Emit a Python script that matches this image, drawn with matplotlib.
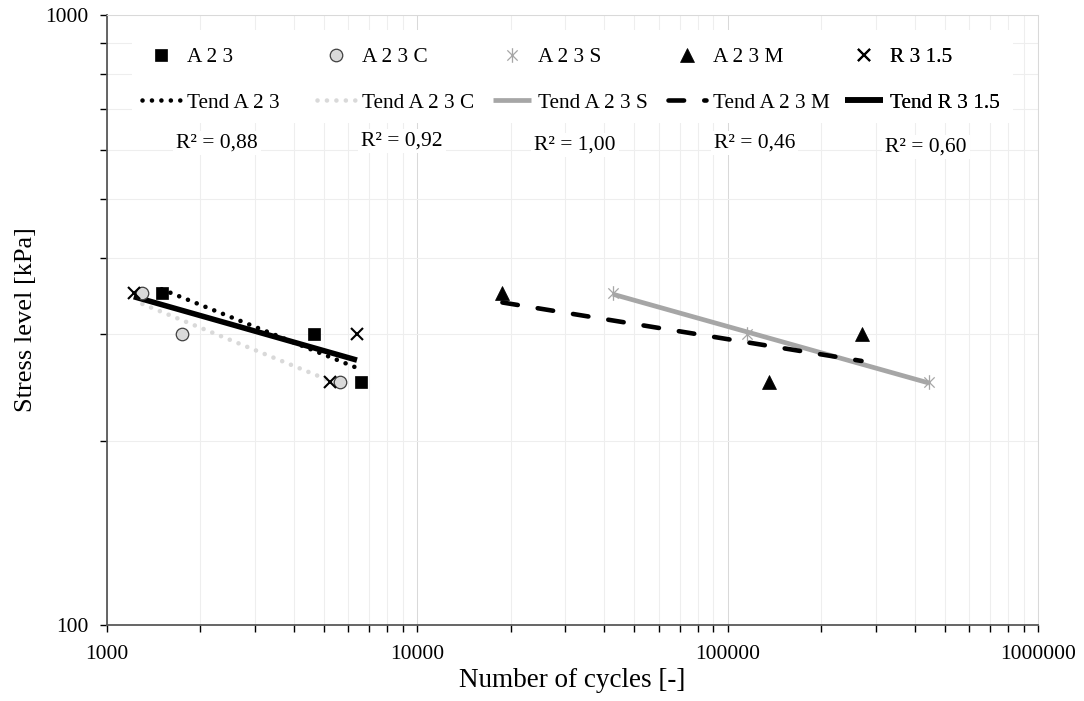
import numpy as np
import matplotlib
matplotlib.use('Agg')
import matplotlib.pyplot as plt
from matplotlib.path import Path
from matplotlib.ticker import LogLocator, FuncFormatter, NullFormatter
from matplotlib.patches import Rectangle

plt.rcParams['font.family'] = ['Liberation Serif', 'DejaVu Serif']

# ---------------- data ----------------
series_names = ['A 2 3', 'A 2 3 C', 'A 2 3 S', 'A 2 3 M', 'R 3 1.5']
trend_names = ['Tend A 2 3', 'Tend A 2 3 C', 'Tend A 2 3 S', 'Tend A 2 3 M', 'Tend R 3 1.5']

cycles_a23 = [1500, 4650, 6580]
stress_a23 = [350, 300, 250]
cycles_a23c = [1300, 1750, 5650]
stress_a23c = [350, 300, 250]
cycles_a23s = [42700, 115700, 446000]
stress_a23s = [350, 300, 250]
cycles_a23m = [18800, 270000, 135900]
stress_a23m = [350, 300, 250]
cycles_r315 = [1220, 6390, 5240]
stress_r315 = [350, 300, 250]

r_squared = [0.88, 0.92, 1.00, 0.46, 0.60]

x_ticks = [1000, 10000, 100000, 1000000]
y_ticks = [100, 1000]

# ---------------- styles ----------------
star = Path([(-0.707, -0.707), (0.707, 0.707), (-0.707, 0.707), (0.707, -0.707), (0, -1), (0, 1)],
            [Path.MOVETO, Path.LINETO, Path.MOVETO, Path.LINETO, Path.MOVETO, Path.LINETO])

marker_styles = [
    dict(marker='s', markersize=9, markerfacecolor='black', markeredgecolor='black', markeredgewidth=0.5),
    dict(marker='o', markersize=9, markerfacecolor='#d9d9d9', markeredgecolor='#404040', markeredgewidth=0.9),
    dict(marker=star, markersize=10.5, markerfacecolor='none', markeredgecolor='#a6a6a6', markeredgewidth=0.9),
    dict(marker='^', markersize=9.5, markerfacecolor='black', markeredgecolor='black', markeredgewidth=0.5),
    dict(marker='x', markersize=9, markerfacecolor='black', markeredgecolor='black', markeredgewidth=1.5),
]
trend_styles = [
    dict(color='black', lw=3.3, linestyle=(0, (0.01, 2.05)), dash_capstyle='round'),
    dict(color='#d9d9d9', lw=3.3, linestyle=(0, (0.01, 2.05)), dash_capstyle='round'),
    dict(color='#a6a6a6', lw=3.4, linestyle='-', solid_capstyle='butt'),
    dict(color='black', lw=3.3, linestyle=(0, (3.4, 4.4)), dash_capstyle='round'),
    dict(color='black', lw=4.0, linestyle='-', solid_capstyle='butt'),
]

all_cycles = [cycles_a23, cycles_a23c, cycles_a23s, cycles_a23m, cycles_r315]
all_stress = [stress_a23, stress_a23c, stress_a23s, stress_a23m, stress_r315]

W, H = 1084, 701
fig = plt.figure(figsize=(W / 100, H / 100), dpi=100)
L, R, T, B = 107, 1038, 15, 625
ax = fig.add_axes([L / W, (H - B) / H, (R - L) / W, (B - T) / H])

ax.set_xscale('log')
ax.set_yscale('log')
ax.set_xlim(1000, 1000000)
ax.set_ylim(100, 1000)
ax.set_axisbelow(True)

ax.xaxis.set_major_locator(LogLocator(base=10, subs=(1.0,)))
ax.xaxis.set_minor_locator(LogLocator(base=10, subs=np.arange(2, 10)))
ax.yaxis.set_major_locator(LogLocator(base=10, subs=(1.0,)))
ax.yaxis.set_minor_locator(LogLocator(base=10, subs=np.arange(2, 10)))
ax.set_xticks(x_ticks)
ax.set_yticks(y_ticks)
fmt = FuncFormatter(lambda v, p: f'{v:.0f}')
ax.xaxis.set_major_formatter(fmt)
ax.yaxis.set_major_formatter(fmt)
ax.xaxis.set_minor_formatter(NullFormatter())
ax.yaxis.set_minor_formatter(NullFormatter())

ax.grid(which='major', color='#d9d9d9', lw=0.75)
ax.grid(which='minor', color='#eeeeee', lw=0.75)

for s in ['left', 'bottom']:
    ax.spines[s].set_color('#595959')
    ax.spines[s].set_linewidth(1.3)
for s in ['top', 'right']:
    ax.spines[s].set_color('#d9d9d9')
    ax.spines[s].set_linewidth(0.75)

ax.tick_params(axis='both', which='both', direction='out', length=5, width=1, color='black',
               labelsize=15.5)
ax.tick_params(axis='x', which='both', pad=9.5)
ax.tick_params(axis='y', which='both', pad=8.5)

ax.set_xlabel('Number of cycles [-]', fontsize=19.5, labelpad=3)
ax.set_ylabel('Stress level [kPa]', fontsize=19, labelpad=6)

marker_handles = []
trend_handles = []
for i in range(5):
    x = np.array(all_cycles[i], dtype=float)
    y = np.array(all_stress[i], dtype=float)
    b, a = np.polyfit(np.log10(x), np.log10(y), 1)
    xf = np.logspace(np.log10(x.min()), np.log10(x.max()), 50)
    yf = 10 ** (a + b * np.log10(xf))
    ln, = ax.plot(xf, yf, zorder=3, label=trend_names[i], **trend_styles[i])
    trend_handles.append(ln)

for i in range(5):
    mk, = ax.plot(all_cycles[i], all_stress[i], linestyle='none', zorder=4,
                  label=series_names[i], **marker_styles[i])
    marker_handles.append(mk)

# white legend area
ax.add_patch(Rectangle((0.027, 0.823), 0.946, 0.152, transform=ax.transAxes,
                       facecolor='white', edgecolor='none', zorder=1))

leg_x = [0.0376, 0.2256, 0.4146, 0.6026, 0.7927]
for i in range(5):
    lg = ax.legend(handles=[marker_handles[i], trend_handles[i]], loc='center left',
                   bbox_to_anchor=(leg_x[i], 0.8934), frameon=False, fontsize=15.3,
                   handlelength=1.8, handletextpad=0.3, borderpad=0, borderaxespad=0,
                   labelspacing=1.2)
    lg.set_zorder(6)
    ax.add_artist(lg)

r2_pos = [(0.1182, 0.7902), (0.3169, 0.7934), (0.5027, 0.7869), (0.6960, 0.7902), (0.8797, 0.7836)]
for (px, py), r2 in zip(r2_pos, r_squared):
    ax.text(px, py, f'R² = {r2:.2f}'.replace('.', ','), transform=ax.transAxes,
            ha='center', va='center', fontsize=15.5, zorder=6,
            bbox=dict(facecolor='white', edgecolor='none', pad=2))

fig.savefig('out.png', dpi=100)
